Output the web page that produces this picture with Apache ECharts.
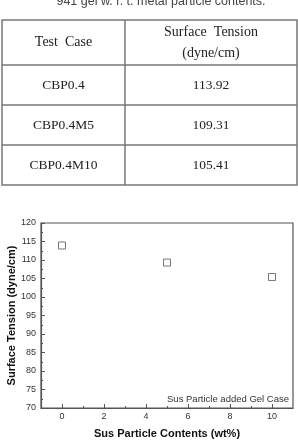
<!DOCTYPE html>
<html>
<head>
<meta charset="utf-8">
<script src="https://cdn.jsdelivr.net/npm/echarts@6/dist/echarts.min.js"></script>
<style>html,body{margin:0;padding:0;background:#fff;}#c{width:298px;height:446px;}</style>
</head>
<body>
<div id="c"></div>
<script>
const caption = '941 gel w. r. t. metal particle contents.';
const tableHeaders = ['Test  Case', 'Surface  Tension\n(dyne/cm)'];
const categories = ['CBP0.4', 'CBP0.4M5', 'CBP0.4M10'];
const particleContents = [0, 5, 10];
const surfaceTension = [113.92, 109.31, 105.41];
const xTicks = [0, 2, 4, 6, 8, 10];
const xMinorTicks = [1, 3, 5, 7, 9];
const seriesName = 'Sus Particle added Gel Case';

const chart = echarts.init(document.getElementById('c'), null, {renderer: 'canvas'});

// table layout
const tL = 2, tR = 297, tMid = 125, tTop = 20, headBottom = 65, rowH = 40;
const lineStyle = {stroke: '#777', lineWidth: 1.5};
const g = [];
const rowsBottom = headBottom + rowH * categories.length;
g.push({type: 'text', style: {text: caption, x: 161, y: 2, align: 'center', verticalAlign: 'middle', textAlign: 'center', textVerticalAlign: 'middle', font: '12.5px Arial, "Liberation Sans", sans-serif', fill: '#444'}});
g.push({type: 'rect', shape: {x: tL, y: tTop, width: tR - tL, height: rowsBottom - tTop}, style: {fill: 'none', stroke: '#777', lineWidth: 1.5}});
g.push({type: 'line', shape: {x1: tMid, y1: tTop, x2: tMid, y2: rowsBottom}, style: lineStyle});
for (let i = 0; i < categories.length; i++) {
  const yLine = headBottom + rowH * i;
  g.push({type: 'line', shape: {x1: tL, y1: yLine, x2: tR, y2: yLine}, style: lineStyle});
}
const serif = '"Liberation Serif", "DejaVu Serif", serif';
g.push({type: 'text', style: {text: tableHeaders[0], x: (tL + tMid) / 2, y: (tTop + headBottom) / 2, align: 'center', verticalAlign: 'middle', textAlign: 'center', textVerticalAlign: 'middle', font: '14px ' + serif, fill: '#222'}});
g.push({type: 'text', style: {text: tableHeaders[1], x: (tMid + tR) / 2, y: (tTop + headBottom) / 2, align: 'center', verticalAlign: 'middle', textAlign: 'center', textVerticalAlign: 'middle', font: '14px ' + serif, lineHeight: 21, fill: '#222'}});
categories.forEach(function (c, i) {
  const yc = headBottom + rowH * i + rowH / 2;
  g.push({type: 'text', style: {text: c, x: (tL + tMid) / 2, y: yc, align: 'center', verticalAlign: 'middle', textAlign: 'center', textVerticalAlign: 'middle', font: '13.5px ' + serif, fill: '#222'}});
  g.push({type: 'text', style: {text: surfaceTension[i].toFixed(2), x: (tMid + tR) / 2, y: yc, align: 'center', verticalAlign: 'middle', textAlign: 'center', textVerticalAlign: 'middle', font: '13.5px ' + serif, fill: '#222'}});
});

const axisColor = '#555';
const labelFont = {fontFamily: 'Arial, "Liberation Sans", sans-serif', fontSize: 9, color: '#333'};
const nameFont = {fontFamily: 'Arial, "Liberation Sans", sans-serif', fontSize: 11, fontWeight: 'bold', color: '#111'};
const option = {
  animation: false,
  backgroundColor: '#fff',
  graphic: {elements: g},
  grid: {left: 41, right: 5, top: 223, bottom: 38, show: true, borderColor: axisColor, borderWidth: 1.2, backgroundColor: 'transparent', outerBoundsMode: 'none', containLabel: false},
  legend: {
    data: [{name: seriesName, icon: 'none'}],
    right: 9, bottom: 42, itemWidth: 0, itemHeight: 0, itemGap: 0, padding: 0,
    textStyle: {fontFamily: 'Arial, "Liberation Sans", sans-serif', fontSize: 9.5, color: '#333', padding: 0}
  },
  xAxis: [{
    type: 'value', min: -1, max: 11, position: 'bottom',
    name: 'Sus Particle Contents (wt%)', nameLocation: 'middle', nameGap: 20, nameMoveOverlap: false,
    nameTextStyle: nameFont,
    axisLine: {show: true, onZero: false, lineStyle: {color: axisColor, width: 1.2}},
    axisTick: {show: true, inside: true, length: 4, customValues: xTicks, lineStyle: {color: axisColor}},
    axisLabel: Object.assign({customValues: xTicks, margin: 4}, labelFont),
    splitLine: {show: false}
  }, {
    type: 'value', min: -1, max: 11, position: 'bottom', offset: 0,
    axisLine: {show: false, onZero: false},
    axisTick: {show: true, inside: true, length: 2, customValues: xMinorTicks, lineStyle: {color: axisColor}},
    axisLabel: {show: false},
    splitLine: {show: false}
  }],
  yAxis: {
    type: 'value', min: 70, max: 120, interval: 5, position: 'left',
    name: 'Surface Tension (dyne/cm)', nameLocation: 'middle', nameGap: 24, nameMoveOverlap: false,
    nameTextStyle: nameFont,
    axisLine: {show: true, onZero: false, lineStyle: {color: axisColor, width: 1.2}},
    axisTick: {show: true, inside: true, length: 4, lineStyle: {color: axisColor}},
    minorTick: {show: true, splitNumber: 2, length: 2, lineStyle: {color: axisColor}},
    axisLabel: Object.assign({margin: 5}, labelFont),
    splitLine: {show: false}
  },
  series: [{
    name: seriesName,
    type: 'scatter',
    xAxisIndex: 0,
    symbol: 'rect', symbolSize: 7,
    itemStyle: {color: '#fff', borderColor: '#555', borderWidth: 1},
    data: particleContents.map(function (x, i) { return [x, surfaceTension[i]]; })
  }]
};
chart.setOption(option);
</script>
</body>
</html>
